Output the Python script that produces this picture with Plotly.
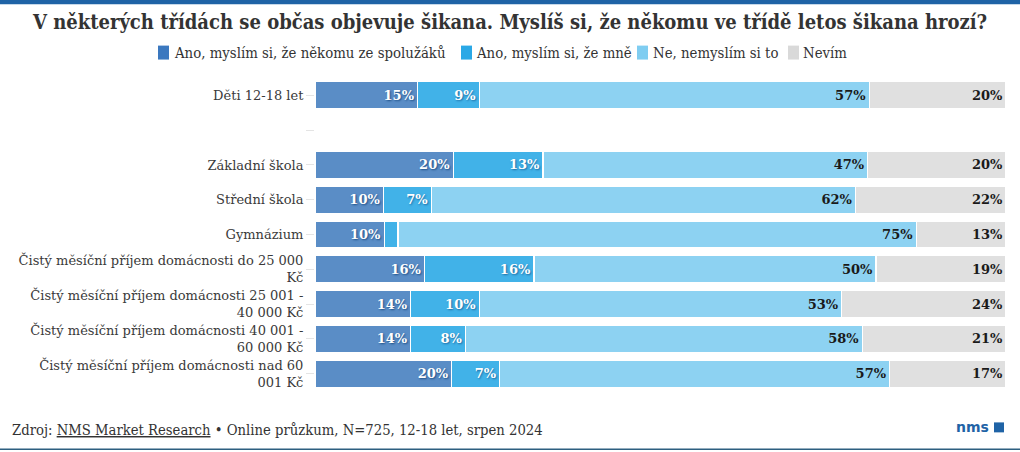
import plotly.graph_objects as go

W, H = 1020, 452

categories = [
    "Děti 12-18 let",
    " ",
    "Základní škola",
    "Střední škola",
    "Gymnázium",
    "Čistý měsíční příjem domácnosti do 25 000<br>Kč",
    "Čistý měsíční příjem domácnosti 25 001 -<br>40 000 Kč",
    "Čistý měsíční příjem domácnosti 40 001 -<br>60 000 Kč",
    "Čistý měsíční příjem domácnosti nad 60<br>001 Kč",
]

series_names = [
    "Ano, myslím si, že někomu ze spolužáků",
    "Ano, myslím si, že mně",
    "Ne, nemyslím si to",
    "Nevím",
]

ano_spoluzaci = [15, None, 20, 10, 10, 16, 14, 14, 20]
ano_mne = [9, None, 13, 7, 2, 16, 10, 8, 7]
ne = [57, None, 47, 62, 75, 50, 53, 58, 57]
nevim = [20, None, 20, 22, 13, 19, 24, 21, 17]

series_values = [ano_spoluzaci, ano_mne, ne, nevim]
colors = ["#5a8dc6", "#41b2e8", "#8dd2f2", "#e0e0e0"]
legend_colors = ["#3b78bf", "#2aa8e6", "#7fcdf1", "#d9d9d9"]
text_colors = ["#ffffff", "#ffffff", "#1a1a1a", "#1a1a1a"]
text_shadows = ["1px 1px 2px #1d4f86", "1px 1px 2px #1d6aa0", "none", "none"]

COND = "DejaVu Serif Condensed, Liberation Serif, serif"

# plot area in pixels
L, R, T, B = 315, 14, 77.5, 60.5
PW = W - L - R
PH = H - T - B

fig = go.Figure()
for name, vals, col, tcol, sh in zip(series_names, series_values, colors, text_colors, text_shadows):
    texts = ["" if (v is None or v < 4) else f"{v}%" for v in vals]
    fig.add_trace(go.Bar(
        y=categories, x=vals, name=name, orientation="h",
        marker=dict(color=col, line=dict(color="white", width=1.2)),
        text=texts, textposition="inside", insidetextanchor="end",
        textangle=0, constraintext="none",
        textfont=dict(family="DejaVu Serif", size=13, color=tcol, weight="bold", shadow=sh),
        hoverinfo="skip", showlegend=False,
    ))

fig.update_layout(
    width=W, height=H,
    barmode="stack", barnorm="percent", bargap=0.22,
    plot_bgcolor="white", paper_bgcolor="white",
    margin=dict(l=L, r=R, t=T, b=B, autoexpand=False),
    title=dict(
        text="<b>V některých třídách se občas objevuje šikana. Myslíš si, že někomu ve třídě letos šikana hrozí?</b>",
        x=0.5, xref="container", xanchor="center",
        y=1 - 22 / H, yref="container", yanchor="middle",
        font=dict(family=COND, size=20, color="#333333"),
    ),
    uniformtext=dict(minsize=13, mode="show"),
    xaxis=dict(visible=False, range=[0, 100], fixedrange=True),
    yaxis=dict(
        autorange="reversed", showgrid=False, zeroline=False, showline=False,
        ticks="outside", ticklen=8, tickcolor="#e4e4e4", fixedrange=True,
        tickfont=dict(family="DejaVu Serif", size=13, color="#3a3a3a"),
    ),
    showlegend=False,
)

def px_x(px):
    return (px - L) / PW

def px_y(py):
    return (H - B - py) / PH

# legend (drawn manually so it stays on one centred row)
legend_sq_x = [158, 461, 637, 788]
legend_txt_x = [172, 474, 651, 801]
LEG_Y = 52
for name, lc, sx, tx in zip(series_names, legend_colors, legend_sq_x, legend_txt_x):
    fig.add_shape(type="rect", xref="paper", yref="paper",
                  x0=px_x(sx), x1=px_x(sx + 11), y0=px_y(LEG_Y + 7), y1=px_y(LEG_Y - 7),
                  fillcolor=lc, line=dict(width=0))
    fig.add_annotation(xref="paper", yref="paper", x=px_x(tx), y=px_y(LEG_Y),
                       xanchor="left", yanchor="middle", showarrow=False,
                       text=name, font=dict(family=COND, size=14.8, color="#333333"))

# top band and bottom line
fig.add_shape(type="rect", xref="paper", yref="paper",
              x0=px_x(0), x1=px_x(W), y0=px_y(3.5), y1=px_y(-1),
              fillcolor="#1f63a6", line=dict(width=0), layer="above")
fig.add_shape(type="line", xref="paper", yref="paper",
              x0=px_x(0), x1=px_x(W), y0=px_y(450), y1=px_y(450),
              line=dict(color="#2d5f80", width=1.5))

# footer
fig.add_annotation(
    xref="paper", yref="paper", x=px_x(10), y=px_y(430),
    xanchor="left", yanchor="middle", showarrow=False,
    text="Zdroj: <span style=\"text-decoration:underline\">NMS Market Research</span> • Online průzkum, N=725, 12-18 let, srpen 2024",
    font=dict(family=COND, size=14.7, color="#333333"),
)
# logo
fig.add_annotation(
    xref="paper", yref="paper", x=px_x(991), y=px_y(428),
    xanchor="right", yanchor="middle", showarrow=False,
    text="<b>nms</b>",
    font=dict(family="DejaVu Sans", size=14, color="#1f63a6"),
)
fig.add_shape(type="rect", xref="paper", yref="paper",
              x0=px_x(994), x1=px_x(1004), y0=px_y(433), y1=px_y(423),
              fillcolor="#1f63a6", line=dict(width=0))

fig.write_html("out.html", config={"displayModeBar": False},
               post_script="document.body.style.margin='0';")
